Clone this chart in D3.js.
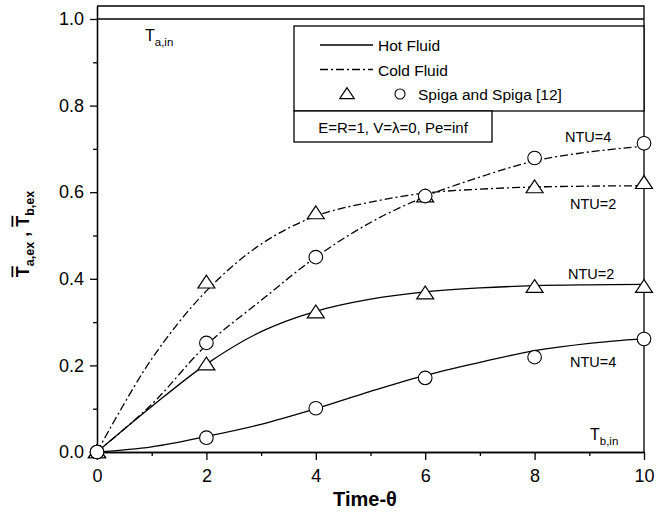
<!DOCTYPE html>
<html>
<head>
<meta charset="utf-8">
<script src="https://cdnjs.cloudflare.com/ajax/libs/d3/7.8.5/d3.min.js"></script>
<style>
  body { margin: 0; background: #fff; }
  svg { font-family: "Liberation Sans", Arial, sans-serif; }
  .axis path, .axis line { stroke: #000; stroke-width: 1.3; }
  .axis text { font-size: 18px; fill: #000; }
</style>
</head>
<body>
<svg id="chart" width="665" height="515"></svg>
<script>
//Time values where the curves are sampled and where the markers sit.
var theta = [0, 1, 2, 3, 4, 5, 6, 7, 8, 9, 10];
var markerTheta = [0, 2, 4, 6, 8, 10];

//Curve values.
var hotNtu2 = [0, 0.105, 0.203, 0.278, 0.325, 0.353, 0.370, 0.379, 0.384, 0.386, 0.387];
var hotNtu4 = [0, 0.012, 0.036, 0.064, 0.100, 0.140, 0.177, 0.207, 0.234, 0.251, 0.262];
var coldNtu2 = [0, 0.215, 0.372, 0.480, 0.545, 0.577, 0.598, 0.607, 0.612, 0.614, 0.615];
var coldNtu4 = [0, 0.110, 0.247, 0.350, 0.450, 0.530, 0.590, 0.635, 0.672, 0.693, 0.706];

//Spiga and Spiga [12] markers.
var spigaHot2 = [0, 0.203, 0.323, 0.367, 0.382, 0.382];
var spigaHot4 = [0, 0.033, 0.101, 0.171, 0.219, 0.261];
var spigaCold2 = [0, 0.392, 0.552, 0.591, 0.612, 0.622];
var spigaCold4 = [0, 0.252, 0.450, 0.591, 0.679, 0.713];

var xMajor = [0, 2, 4, 6, 8, 10];
var xMinor = [1, 3, 5, 7, 9];
var yMajor = [0, 0.2, 0.4, 0.6, 0.8, 1.0];
var yMinor = [0.1, 0.3, 0.5, 0.7, 0.9];

var svg = d3.select("#chart");

var x = d3.scaleLinear().domain([0, 10]).range([97, 644]);
var y = d3.scaleLinear().domain([0, 1.03]).range([452, 6]);

var dashDot = "8,3,2,3";

//Axes: major ticks with labels, minor ticks without.
svg.append("g")
    .attr("class", "axis")
    .attr("transform", "translate(0," + y(0) + ")")
    .call(d3.axisBottom(x).tickValues(xMinor).tickSize(4).tickSizeOuter(0).tickFormat(""));
svg.append("g")
    .attr("class", "axis")
    .attr("transform", "translate(0," + y(0) + ")")
    .call(d3.axisBottom(x).tickValues(xMajor).tickSize(8).tickSizeOuter(0).tickPadding(9).tickFormat(d3.format("d")));

svg.append("g")
    .attr("class", "axis")
    .attr("transform", "translate(" + x(0) + ",0)")
    .call(d3.axisLeft(y).tickValues(yMinor).tickSize(4).tickSizeOuter(0).tickFormat(""));
svg.append("g")
    .attr("class", "axis")
    .attr("transform", "translate(" + x(0) + ",0)")
    .call(d3.axisLeft(y).tickValues(yMajor).tickSize(7).tickSizeOuter(0).tickPadding(6).tickFormat(d3.format(".1f")));

//Frame top and right.
svg.append("path")
    .attr("d", "M" + x(0) + "," + y(1.03) + "H" + x(10) + "V" + y(0))
    .attr("fill", "none")
    .attr("stroke", "#000")
    .attr("stroke-width", 1.3);

//Inlet temperature of the hot fluid.
svg.append("line")
    .attr("x1", x(0)).attr("x2", x(10))
    .attr("y1", y(1)).attr("y2", y(1))
    .attr("stroke", "#000")
    .attr("stroke-width", 1.3);

//Curves.
var line = d3.line()
    .x(function (d, i) { return x(theta[i]); })
    .y(function (d) { return y(d); })
    .curve(d3.curveCatmullRom);

var curves = [
    { values: coldNtu2, dash: dashDot },
    { values: coldNtu4, dash: dashDot },
    { values: hotNtu2, dash: null },
    { values: hotNtu4, dash: null }
];

curves.forEach(function (c) {
    svg.append("path")
        .datum(c.values)
        .attr("d", line)
        .attr("fill", "none")
        .attr("stroke", "#000")
        .attr("stroke-width", 1.3)
        .attr("stroke-dasharray", c.dash);
});

//Markers.
var tri = d3.symbol().type(d3.symbolTriangle).size(95);

function drawTriangles(values) {
    svg.append("g").selectAll("path")
        .data(values)
        .enter()
        .append("path")
        .attr("d", tri)
        .attr("transform", function (d, i) {
            return "translate(" + x(markerTheta[i]) + "," + (y(d) + 1.5) + ") scale(1.15,1)";
        })
        .attr("fill", "#fff")
        .attr("stroke", "#000")
        .attr("stroke-width", 1.1);
}

function drawCircles(values) {
    svg.append("g").selectAll("circle")
        .data(values)
        .enter()
        .append("circle")
        .attr("cx", function (d, i) { return x(markerTheta[i]); })
        .attr("cy", function (d) { return y(d); })
        .attr("r", 6.8)
        .attr("fill", "#fff")
        .attr("stroke", "#000")
        .attr("stroke-width", 1.1);
}

drawTriangles(spigaCold2);
drawTriangles(spigaHot2);
drawCircles(spigaCold4);
drawCircles(spigaHot4);

//Legend box.
svg.append("rect")
    .attr("x", 294).attr("y", 26)
    .attr("width", x(10) - 294).attr("height", 85)
    .attr("fill", "#fff")
    .attr("stroke", "#000")
    .attr("stroke-width", 1.3);
svg.append("rect")
    .attr("x", 294).attr("y", 111)
    .attr("width", 198).attr("height", 31)
    .attr("fill", "#fff")
    .attr("stroke", "#000")
    .attr("stroke-width", 1.3);

svg.append("line")
    .attr("x1", 320).attr("x2", 373).attr("y1", 45).attr("y2", 45)
    .attr("stroke", "#000").attr("stroke-width", 1.3);
svg.append("line")
    .attr("x1", 320).attr("x2", 373).attr("y1", 69.5).attr("y2", 69.5)
    .attr("stroke", "#000").attr("stroke-width", 1.3)
    .attr("stroke-dasharray", dashDot);
svg.append("path")
    .attr("d", d3.symbol().type(d3.symbolTriangle).size(70))
    .attr("transform", "translate(347,95) scale(1.15,1)")
    .attr("fill", "#fff").attr("stroke", "#000").attr("stroke-width", 1.1);
svg.append("circle")
    .attr("cx", 400).attr("cy", 94).attr("r", 5)
    .attr("fill", "#fff").attr("stroke", "#000").attr("stroke-width", 1.1);

var legendText = [
    { t: "Hot Fluid", x: 378, y: 50.5 },
    { t: "Cold Fluid", x: 378, y: 76 },
    { t: "Spiga and Spiga [12]", x: 418, y: 100 }
];
legendText.forEach(function (d) {
    svg.append("text").attr("x", d.x).attr("y", d.y)
        .style("font-size", "15.5px").text(d.t);
});

svg.append("text")
    .attr("x", 393).attr("y", 133)
    .attr("text-anchor", "middle")
    .style("font-size", "15px")
    .text("E=R=1, V=\u03bb=0, Pe=inf");

//NTU labels.
var ntuLabels = [
    { t: "NTU=4", x: 565, y: 142 },
    { t: "NTU=2", x: 570, y: 209 },
    { t: "NTU=2", x: 568, y: 279 },
    { t: "NTU=4", x: 570, y: 366.5 }
];
ntuLabels.forEach(function (d) {
    svg.append("text").attr("x", d.x).attr("y", d.y)
        .style("font-size", "14.5px").text(d.t);
});

//Inlet labels.
function inletLabel(sub, xPos, yPos) {
    var t = svg.append("text").attr("x", xPos).attr("y", yPos).style("font-size", "16px");
    t.append("tspan").text("T");
    t.append("tspan").attr("dy", 5).style("font-size", "11.5px").text(sub);
}
inletLabel("a,in", 145, 40.5);
inletLabel("b,in", 590, 439.5);

//Axis titles.
svg.append("text")
    .attr("x", 365).attr("y", 506)
    .attr("text-anchor", "middle")
    .style("font-size", "20px")
    .style("font-weight", "bold")
    .text("Time-\u03b8");

var yTitle = svg.append("text")
    .attr("transform", "translate(28.5,234) rotate(-90)")
    .attr("text-anchor", "middle")
    .style("font-weight", "bold");
yTitle.append("tspan").style("font-size", "18px").style("text-decoration", "overline").text("T");
yTitle.append("tspan").attr("dy", 5).style("font-size", "12.5px").text("a,ex");
yTitle.append("tspan").attr("dy", -5).style("font-size", "18px").text(" ,  ");
yTitle.append("tspan").style("font-size", "18px").style("text-decoration", "overline").text("T");
yTitle.append("tspan").attr("dy", 5).style("font-size", "12.5px").text("b,ex");
</script>
</body>
</html>
